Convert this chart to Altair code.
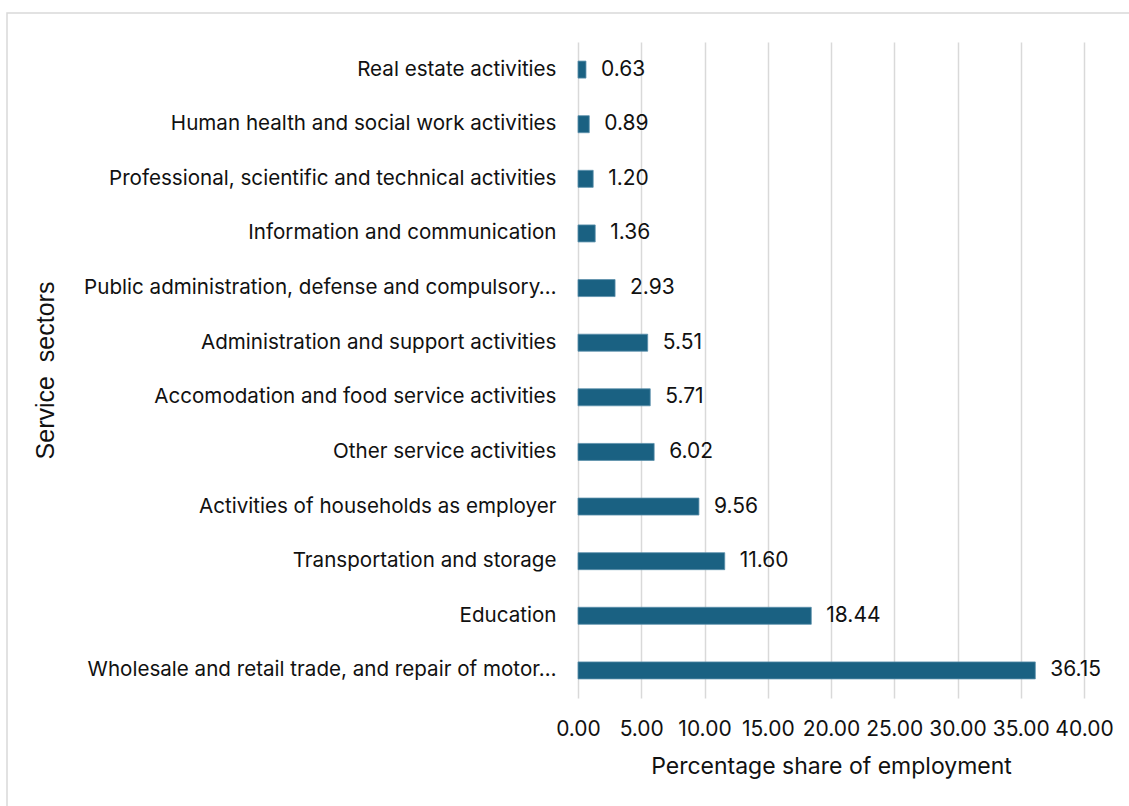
import altair as alt
import pandas as pd

sectors = [
    "Real estate activities",
    "Human health and social work activities",
    "Professional, scientific and technical activities",
    "Information and communication",
    "Public administration, defense and compulsory…",
    "Administration and support activities",
    "Accomodation and food service activities",
    "Other service activities",
    "Activities of households as employer",
    "Transportation and storage",
    "Education",
    "Wholesale and retail trade, and repair of motor…",
]
shares = [0.63, 0.89, 1.20, 1.36, 2.93, 5.51, 5.71, 6.02, 9.56, 11.60, 18.44, 36.15]
x_ticks = [0, 5, 10, 15, 20, 25, 30, 35, 40]

df = pd.DataFrame({"sector": sectors, "share": shares})

FONT = "Inter"
BAR = "#1a6182"
FS = 21

y_enc = alt.Y(
    "sector:N",
    sort=sectors,
    title="Service\u00a0 sectors",
    scale=alt.Scale(paddingInner=0.69, paddingOuter=0.35),
    axis=alt.Axis(
        labelFont=FONT, labelFontSize=20.6, labelColor="#111111",
        labelPadding=22, ticks=False, domain=False, grid=False,
        labelLimit=560,
        titleFont="Liberation Sans", titleFontSize=25, titleFontWeight="normal",
        titleColor="#111111", titleX=-533, titleY=328, titleAngle=270,
        titleAlign="center", titleBaseline="middle",
    ),
)
x_enc = alt.X(
    "share:Q",
    title="Percentage share of employment",
    scale=alt.Scale(domain=[0, 40], nice=False),
    axis=alt.Axis(
        values=x_ticks, format=".2f", labelFont=FONT, labelFontSize=FS,
        labelColor="#111111", labelPadding=20, ticks=False, domain=False,
        labelOverlap=False, labelFlush=False,
        grid=True, gridColor="#d9d9d9", gridWidth=1.5,
        titleFont=FONT, titleFontSize=23, titleFontWeight="normal",
        titleColor="#111111", titlePadding=16,
    ),
)

bars = alt.Chart(df).mark_bar(color=BAR, size=17, stroke="#5a8fab", strokeWidth=0.8).encode(
    y=y_enc, x=x_enc
)
labels = alt.Chart(df).mark_text(
    align="left", baseline="middle", dx=15, font=FONT, fontSize=FS, color="#111111"
).encode(
    y=alt.Y("sector:N", sort=sectors),
    x=alt.X("share:Q"),
    text=alt.Text("share:Q", format=".2f"),
)
border = alt.Chart(pd.DataFrame({"a": [0]})).mark_rect(
    filled=False, stroke="#d9d9d9", strokeWidth=1.5
).encode(
    x=alt.value(-571), x2=alt.value(560), y=alt.value(-29), y2=alt.value(780)
)

chart = alt.layer(bars, labels, border).properties(
    width=506,
    height=656,
    autosize=alt.AutoSizeParams(type="none"),
    padding={"left": 578, "top": 42, "right": 45, "bottom": 108},
    background="white",
).configure_view(stroke=None)

chart.save("out.html", embed_options={"renderer": "svg", "actions": False})
